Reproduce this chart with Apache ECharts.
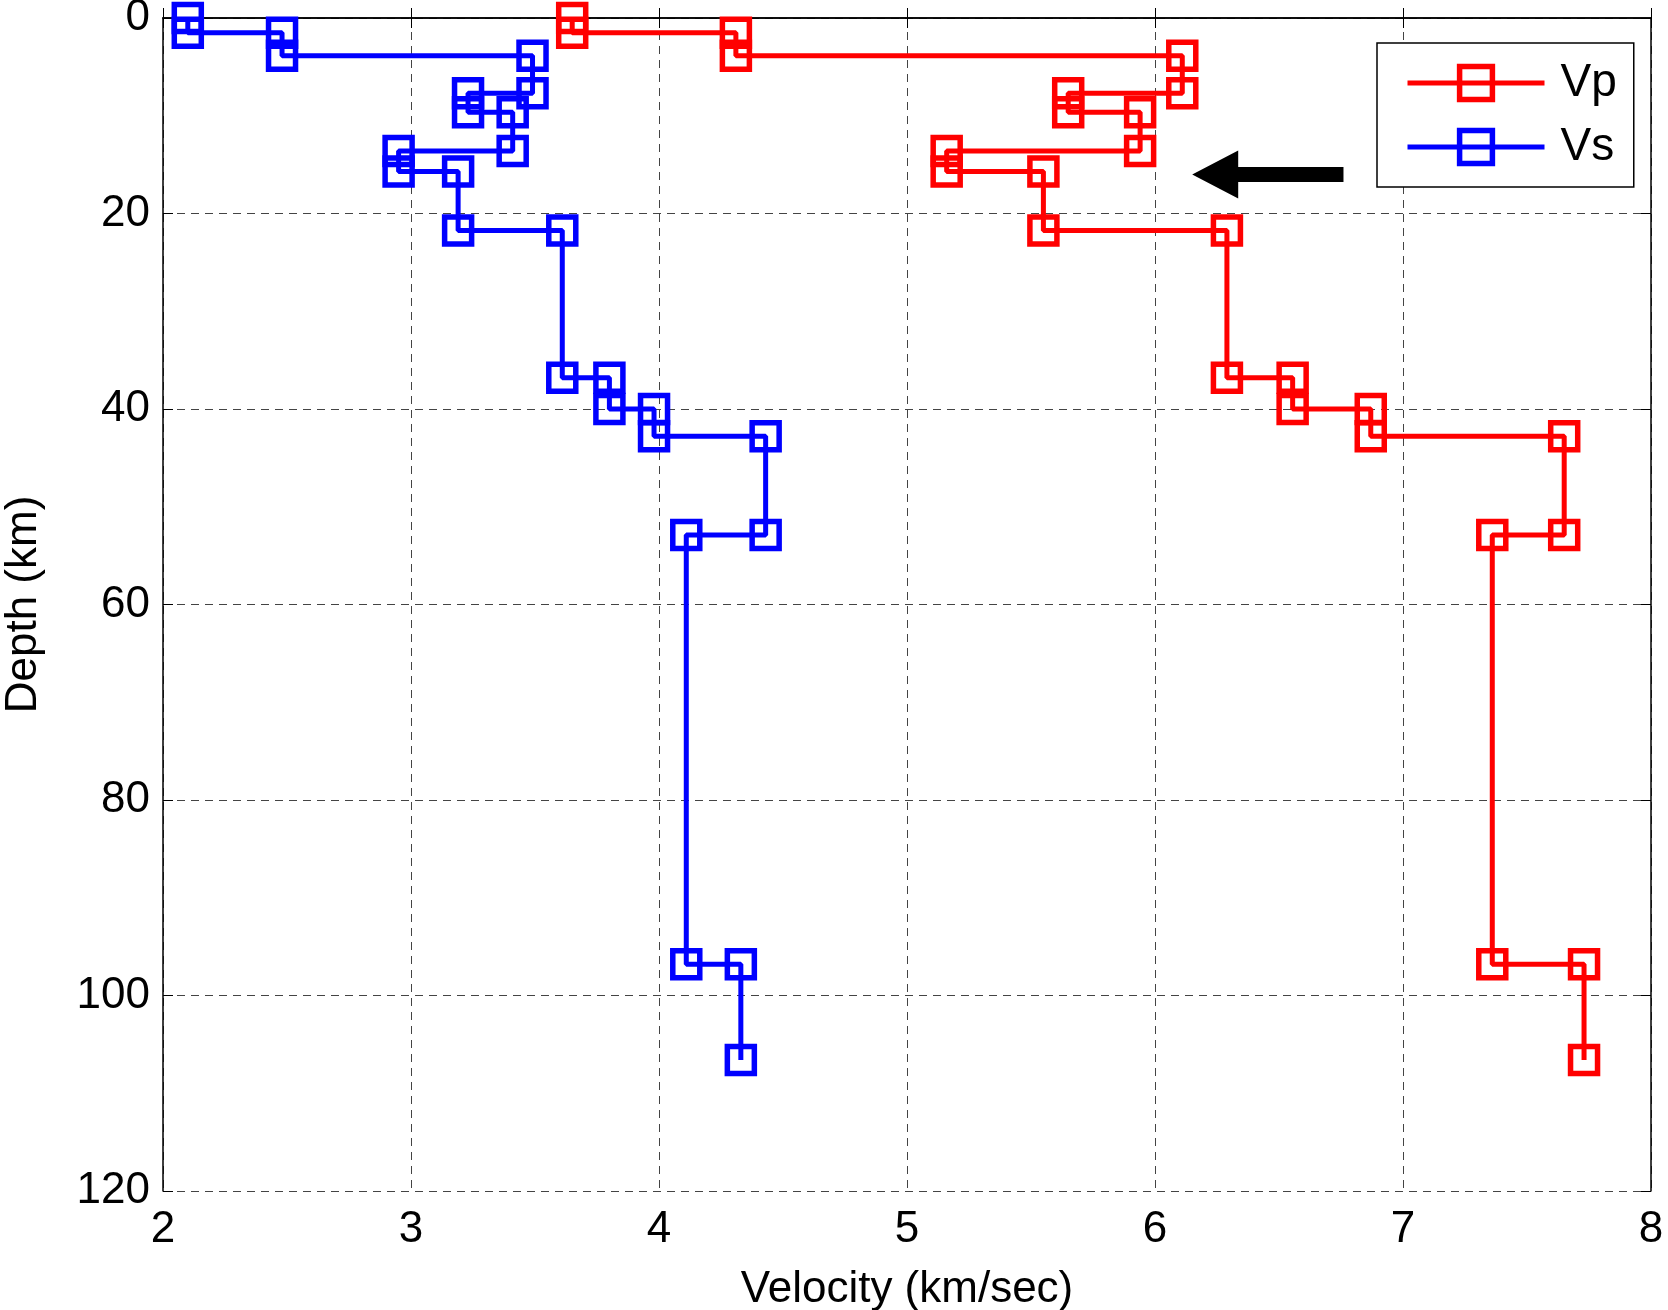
<!DOCTYPE html>
<html>
<head>
<meta charset="utf-8">
<title>Velocity depth profile</title>
<script src="https://cdn.jsdelivr.net/npm/echarts@6/dist/echarts.min.js"></script>
<style>
html, body { margin: 0; padding: 0; background: #fff; }
#chart { width: 1668px; height: 1310px; }
</style>
</head>
<body>
<div id="chart"></div>
<script>
// layer boundaries (km) and layer velocities (km/sec)
var layerDepths = [0, 1.5, 3.85, 7.7, 9.65, 13.6, 15.7, 21.75, 36.8, 40, 42.8, 52.9, 96.8, 106.6];
var vpLayers = [3.65, 4.31, 6.11, 5.65, 5.94, 5.16, 5.55, 6.29, 6.555, 6.87, 7.65, 7.36, 7.73];
var vsLayers = [2.1, 2.48, 3.49, 3.23, 3.41, 2.95, 3.19, 3.61, 3.8, 3.98, 4.43, 4.11, 4.33];
// arrow annotation: from tail to tip, in data units
var arrowTail = [6.76, 16];
var arrowTip = [6.15, 16];

function stepPoints(vel) {
    var pts = [];
    for (var i = 0; i < vel.length; i++) {
        pts.push([vel[i], layerDepths[i]]);
        pts.push([vel[i], layerDepths[i + 1]]);
    }
    return pts;
}

var font = 'Liberation Sans, Arial, Helvetica, sans-serif';
var gridLine = { show: true, lineStyle: { color: '#444', width: 1, type: [8, 6] } };
var frameLine = { show: true, lineStyle: { color: '#000', width: 1.5 } };
var innerTick = { show: true, inside: true, length: 10, lineStyle: { color: '#000' } };

function series(name, color, vel) {
    return {
        name: name,
        type: 'line',
        data: stepPoints(vel),
        symbol: 'rect',
        symbolSize: 27,
        clip: false,
        lineStyle: { color: color, width: 5 },
        itemStyle: { color: 'rgba(255,255,255,0)', borderColor: color, borderWidth: 5.5 },
        emphasis: { disabled: true },
        z: 3
    };
}

var chart = echarts.init(document.getElementById('chart'));
chart.setOption({
    animation: false,
    textStyle: { fontFamily: font },
    grid: { left: 163, right: 17, top: 18, bottom: 119, outerBoundsMode: 'none', containLabel: false },
    legend: {
        orient: 'vertical',
        left: 1377,
        top: 43,
        padding: [17, 17, 17, 28],
        itemGap: 18,
        itemWidth: 137,
        itemHeight: 41,
        borderColor: '#000',
        borderWidth: 1.5,
        backgroundColor: '#fff',
        lineStyle: { width: 5 },
        itemStyle: { borderWidth: 5.5 },
        textStyle: { fontSize: 46, lineHeight: 41, color: '#000', fontFamily: font, padding: [0, 0, 0, 11] },
        data: ['Vp', 'Vs']
    },
    xAxis: [{
        type: 'value', min: 2, max: 8, interval: 1, position: 'bottom',
        name: 'Velocity (km/sec)', nameLocation: 'middle', nameGap: 77,
        nameTextStyle: { fontSize: 44, color: '#000', fontFamily: font },
        axisLine: frameLine,
        axisTick: innerTick,
        axisLabel: { fontSize: 44, color: '#000', margin: 17, fontFamily: font },
        splitLine: gridLine
    }, {
        type: 'value', min: 2, max: 8, interval: 1, position: 'top',
        axisLine: frameLine,
        axisTick: innerTick,
        axisLabel: { show: false },
        splitLine: { show: false }
    }],
    yAxis: [{
        type: 'value', min: 0, max: 120, interval: 20, inverse: true, position: 'left',
        name: 'Depth (km)', nameLocation: 'middle', nameGap: 117, nameRotate: 90,
        nameTextStyle: { fontSize: 44, color: '#000', fontFamily: font },
        axisLine: frameLine,
        axisTick: innerTick,
        axisLabel: { fontSize: 44, color: '#000', margin: 13, fontFamily: font },
        splitLine: gridLine
    }, {
        type: 'value', min: 0, max: 120, interval: 20, inverse: true, position: 'right',
        axisLine: frameLine,
        axisTick: innerTick,
        axisLabel: { show: false },
        splitLine: { show: false }
    }],
    series: [
        series('Vp', '#ff0000', vpLayers),
        series('Vs', '#0000ff', vsLayers)
    ]
});

// draw the black arrow from data coordinates
var tail = chart.convertToPixel({ gridIndex: 0 }, arrowTail);
var tip = chart.convertToPixel({ gridIndex: 0 }, arrowTip);
var headLen = 46, headHalf = 24, shaftHalf = 7.5;
var baseX = tip[0] + headLen;
chart.setOption({
    graphic: [{
        type: 'polygon',
        z: 10,
        shape: {
            points: [
                [tip[0], tip[1]],
                [baseX, tip[1] - headHalf],
                [baseX, tip[1] - shaftHalf],
                [tail[0], tip[1] - shaftHalf],
                [tail[0], tip[1] + shaftHalf],
                [baseX, tip[1] + shaftHalf],
                [baseX, tip[1] + headHalf]
            ]
        },
        style: { fill: '#000' }
    }]
});
</script>
</body>
</html>
